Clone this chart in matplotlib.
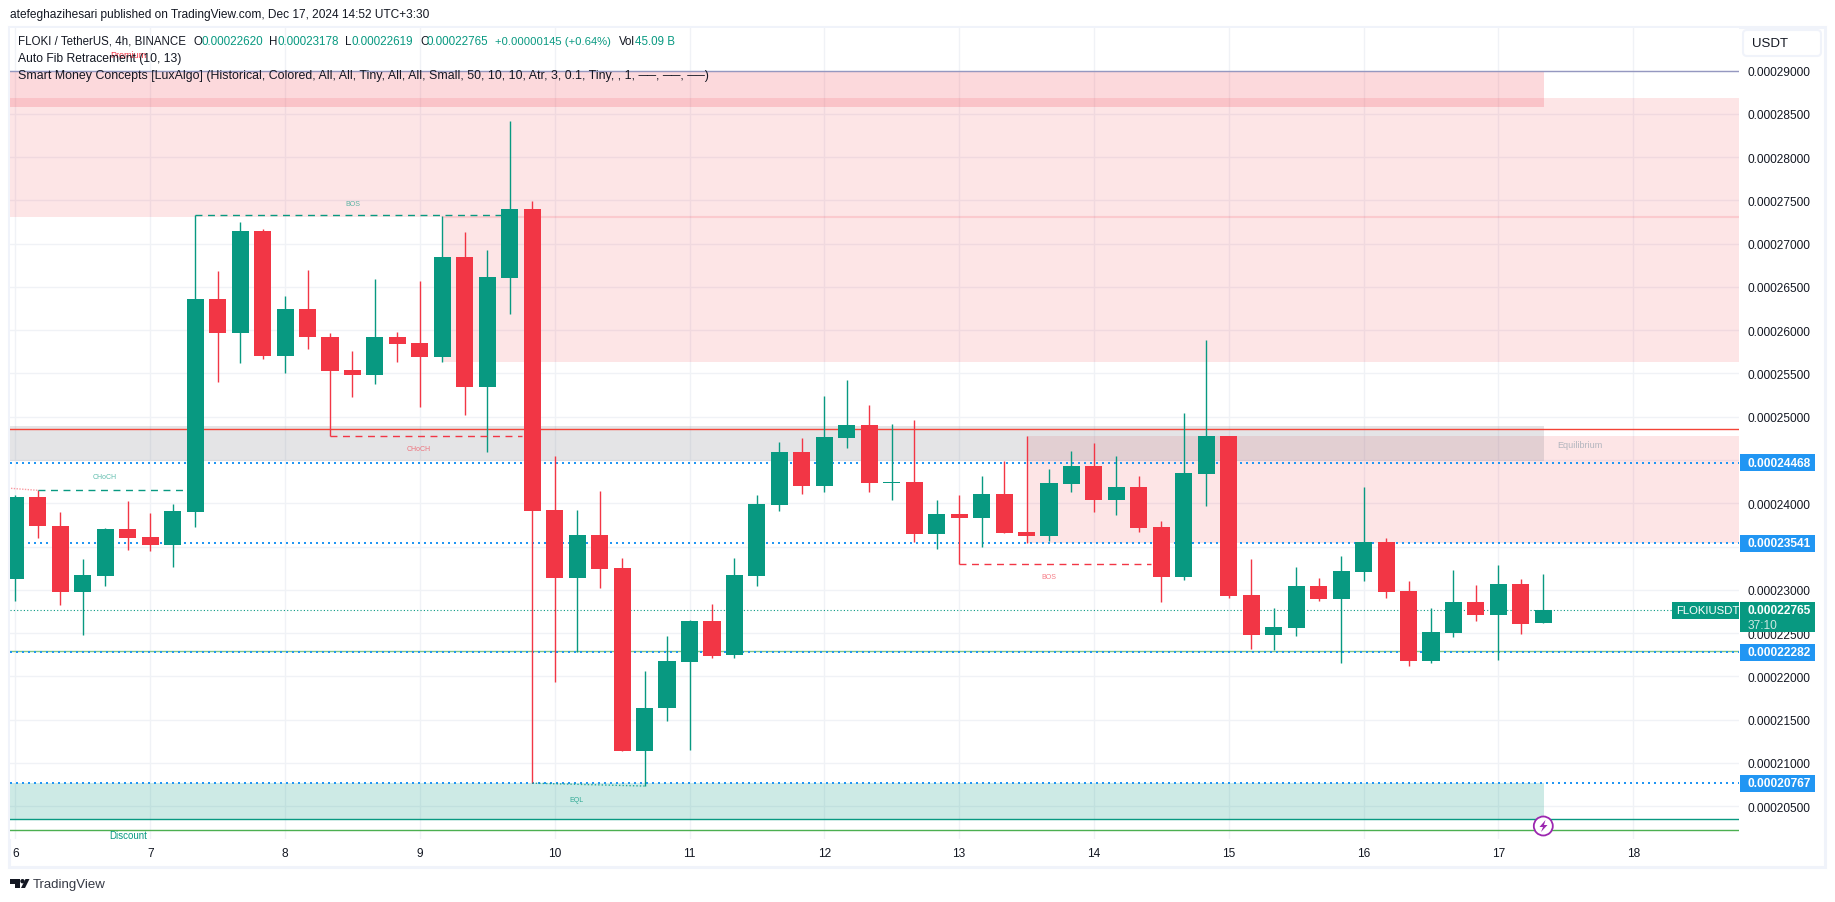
import numpy as np
import matplotlib
matplotlib.use("Agg")
import matplotlib.pyplot as plt
from matplotlib.patches import Rectangle, FancyBboxPatch, Circle, Polygon
from matplotlib.transforms import Affine2D, IdentityTransform, blended_transform_factory

plt.rcParams['font.family'] = ['Liberation Sans', 'DejaVu Sans']

# prices are in units of 0.000001
highs = [240.96,241.53,239.00,233.56,237.15,240.26,238.88,239.92,273.31,266.84,272.50,271.69,263.95,266.95,259.67,257.59,265.91,259.79,265.68,273.19,271.34,269.26,284.17,274.92,245.46,239.22,241.42,233.68,220.62,224.67,226.52,228.37,233.68,240.96,247.08,247.54,252.39,254.24,251.35,249.16,249.62,240.38,240.96,243.15,244.89,247.77,243.96,246.04,246.96,245.46,243.15,237.95,250.43,258.92,247.77,233.56,227.90,232.64,231.37,233.91,241.88,235.99,231.02,227.90,232.29,230.56,232.87,231.25,231.78]
lows = [228.71,235.99,228.25,224.78,230.44,234.60,234.49,232.64,237.26,254.01,256.21,256.67,255.05,257.82,247.77,252.28,253.78,256.32,251.12,256.32,250.20,245.93,261.87,207.67,219.35,222.82,230.21,211.38,207.34,214.85,211.50,222.13,222.13,230.44,239.11,241.07,241.30,246.39,241.30,240.38,235.53,234.72,232.99,234.95,236.57,235.41,235.64,241.30,239.00,238.65,236.68,228.60,231.14,239.69,229.06,223.17,223.05,224.67,228.71,221.55,231.02,229.06,221.20,221.55,224.55,226.40,221.90,224.90,226.19]
opens = [231.25,240.73,237.38,229.75,231.60,237.03,236.10,235.18,239.00,263.60,259.67,271.46,257.02,262.45,259.21,255.40,254.82,259.21,258.52,256.90,268.45,253.43,266.03,274.00,239.22,231.37,236.34,232.52,211.38,216.35,221.66,226.40,222.47,231.60,239.80,245.93,242.00,247.54,249.04,242.34,242.46,236.45,238.76,238.30,241.07,236.68,236.22,242.23,244.31,240.38,241.88,237.26,231.48,243.38,247.77,229.40,224.78,225.59,230.44,228.94,232.06,235.53,229.87,221.78,225.01,228.60,227.09,230.67,226.20]
closes = [240.73,237.38,229.75,231.71,237.03,235.99,235.18,239.11,263.60,259.67,271.46,257.02,262.45,259.21,255.28,254.82,259.21,258.40,256.90,268.45,253.43,266.14,274.00,239.11,231.37,236.34,232.41,211.38,216.35,221.78,226.40,222.36,231.71,239.92,245.93,242.00,247.66,249.04,242.34,242.46,236.45,238.76,238.30,241.07,236.57,236.22,242.34,244.31,240.38,241.88,237.15,231.48,243.50,247.77,229.29,224.78,225.71,230.44,228.94,232.18,235.53,229.75,221.78,225.13,228.60,227.09,230.67,226.05,227.65]

day_labels = ['6','7','8','9','10','11','12','13','14','15','16','17','18']
price_ticks = np.arange(205, 291, 5)

blue_levels = [244.68, 235.41, 222.82, 207.67]
blue_texts = ['0.00024468', '0.00023541', '0.00022282', '0.00020767']
last_price = 227.65

green = '#089981'
red = '#f23645'
blue = '#2196f3'
W, H = 1835, 903

fig = plt.figure(figsize=(W/100, H/100), dpi=100, facecolor='white')
L, R, T, B = 10, 1739, 29, 840
ax = fig.add_axes([L/W, 1-B/H, (R-L)/W, (B-T)/H])

bar_x0, bar_dx = 15.4, 22.47
def px(x):
    # chart pixel column to bar index
    return (x-bar_x0)/bar_dx

ax.set_xlim(px(L), px(R))
ax.set_ylim(201.22, 294.91)
for s in ax.spines.values():
    s.set_visible(False)
ax.set_axisbelow(True)
ax.grid(True, color='#f0f2f6', lw=1.0)
ax.set_xticks(np.arange(len(day_labels))*6)
ax.set_xticklabels(day_labels)
ax.set_yticks(price_ticks)
ax.set_yticklabels(['0.%08d' % (p*100) for p in price_ticks])
ax.yaxis.tick_right()
ax.tick_params(axis='both', length=0, labelsize=8.6, labelcolor='#131722')
ax.tick_params(axis='y', pad=6.4)
ax.tick_params(axis='x', pad=6)

def zone(x0, x1, p0, p1, color, alpha, z=1):
    ax.add_patch(Rectangle((px(x0), p0), px(x1)-px(x0), p1-p0, fc=color, alpha=alpha, ec='none', zorder=z))

# smart money zones
zone(L, 1543.7, 285.82, 290, red, 0.19)
zone(L, R, 273.13, 286.82, red, 0.13)
zone(442.5, R, 256.38, 273.13, red, 0.13)
zone(1026.5, R, 235.41, 247.77, red, 0.13)
zone(L, 1543.7, 244.89, 248.93, '#787b86', 0.20)
zone(L, 1543.7, 203.49, 207.67, green, 0.20)
ax.plot([px(442.5), px(R)], [273.13, 273.13], color=red, alpha=0.15, lw=1.5, zorder=1)
ax.plot([px(L), px(R)], [290, 290], color='#9598c0', lw=1, zorder=2)

# level lines
ax.plot([px(L), px(R)], [248.55, 248.55], color='#f44336', lw=1, zorder=2)
ax.plot([px(L), px(R)], [203.49, 203.49], color=green, lw=1, zorder=2)
ax.plot([px(L), px(R)], [202.22, 202.22], color='#4caf50', lw=1, zorder=2)
ax.plot([px(L), px(R)], [222.97, 222.97], color='#81c784', lw=1, zorder=2)
ax.plot([px(L), px(R)], [last_price, last_price], color=green, lw=0.8, ls=(0, (1, 2)), zorder=2)

# candles
x = np.arange(len(opens))
o, c = np.array(opens), np.array(closes)
colors = [green if cc >= oo else red for oo, cc in zip(o, c)]
ax.vlines(x, lows, highs, colors=colors, lw=1.0, zorder=3)
ax.bar(x, np.abs(c-o), bottom=np.minimum(o, c), width=0.76, color=colors, zorder=3)

# dotted levels, 2px dots every 6px
starts = [L, 28, L, L]
for lv, st in zip(blue_levels, starts):
    ax.plot([px(st), px(R)], [lv, lv], color=blue, lw=1.44, ls=(0, (1, 2)), zorder=2.5)

# structure labels
def struct(x0, x1, p, color, label, lx, lp):
    ax.plot([x0, x1], [p, p], color=color, lw=1, ls=(0, (5, 4)), zorder=3.5)
    ax.text(px(lx), lp, label, color=color, alpha=0.65, fontsize=5, ha='center', va='center', zorder=4)

struct(8, px(509), 273.3, green, 'BOS', 352.7, 274.65)
struct(14, px(522), 247.74, red, 'CHoCH', 419, 246.35)
struct(1, px(186), 241.5, green, 'CHoCH', 105, 243.05)
struct(42, px(1150.8), 232.95, red, 'BOS', 1048.8, 231.55)
ax.plot([px(11), 1], [241.73, 241.5], color=red, alpha=0.5, lw=1, ls=(0, (1, 1)), zorder=3.5)
ax.plot([23, 28], [207.67, 207.34], color=green, alpha=0.8, lw=1, ls=(0, (1, 1.5)), zorder=3.5)
ax.text(px(576.5), 205.8, 'EQL', color=green, alpha=0.8, fontsize=5, ha='center', va='center', zorder=4)
ax.text(px(1580), 246.75, 'Equilibrium', color='#b2b5be', fontsize=6.5, ha='center', va='center', zorder=4)
ax.text(px(128), 291.8, 'Premium', color=red, fontsize=6.5, ha='center', va='center', zorder=6, clip_on=False)
ax.text(px(128), 201.7, 'Discount', color=green, fontsize=7, ha='center', va='center', zorder=4)

# price labels on the scale
side = blended_transform_factory(IdentityTransform(), ax.transData)
def side_box(x0, x1, p0, p1, color):
    ax.add_patch(Rectangle((x0, p0), x1-x0, p1-p0, fc=color, ec='none', transform=side, clip_on=False, zorder=5))

for lv, txt in zip(blue_levels, blue_texts):
    side_box(1740, 1815, lv-0.98, lv+0.98, blue)
    ax.text(1748, lv, txt, color='white', fontsize=8.6, fontweight='bold', va='center', transform=side, clip_on=False, zorder=6)
side_box(1672, 1739, last_price-0.98, last_price+0.98, green)
side_box(1740, 1815, last_price-2.55, last_price+0.98, green)
ax.text(1676.5, last_price, 'FLOKIUSDT', color='white', fontsize=8.2, va='center', transform=side, clip_on=False, zorder=6)
ax.text(1748, last_price, '0.00022765', color='white', fontsize=8.6, fontweight='bold', va='center', transform=side, clip_on=False, zorder=6)
ax.text(1748, last_price-1.68, '37:10', color='#cfe9e3', fontsize=8.6, va='center', transform=side, clip_on=False, zorder=6)

# page furniture, in image pixels
page = Affine2D().scale(1, -1).translate(0, H)
def ptext(x0, y0, s, color='#131722', size=8.6, **kw):
    fig.text(x0, y0, s, color=color, fontsize=size, va='center', transform=page, **kw)

fig.add_artist(Rectangle((8.5, 27.5), 1816, 840, fc='none', ec='#f0f3fa', lw=2.2, transform=page, zorder=-1))
ptext(10, 15, 'atefeghazihesari published on TradingView.com, Dec 17, 2024 14:52 UTC+3:30')
ptext(18, 42, 'FLOKI / TetherUS, 4h, BINANCE', size=8.3)
for xl, lab, xv, val in [(193, 'O', 201, '0.00022620'), (269, 'H', 277, '0.00023178'),
                         (345, 'L', 351.4, '0.00022619'), (420, 'C', 426.6, '0.00022765')]:
    ptext(xl, 42, lab, size=8.3)
    ptext(xv, 42, val, color=green, size=8.4)
ptext(495, 42, '+0.00000145 (+0.64%)', color=green, size=8.1)
ptext(619, 42, 'Vol', size=8.3)
ptext(635, 42, '45.09 B', color=green, size=8.3)
ptext(18, 59, 'Auto Fib Retracement (10, 13)', size=8.7)
ptext(18, 76, 'Smart Money Concepts [LuxAlgo] (Historical, Colored, All, All, Tiny, All, All, Small, 50, 10, 10, Atr, 3, 0.1, Tiny, , 1, ──, ──, ──)', size=8.9)

fig.add_artist(FancyBboxPatch((1745, 33), 74, 22, boxstyle='round,pad=2,rounding_size=4', fc='white', ec='#f0f3fa', lw=1.5, transform=page))
ptext(1752, 44.5, 'USDT', size=9.5)

# bolt marker
fig.add_artist(Circle((1543.3, 827), 9.5, fc='white', ec='#9c27b0', lw=1.3, transform=page, zorder=7))
fig.add_artist(Polygon([(1545.5, 821), (1539.5, 828), (1543, 828), (1541, 833), (1547.5, 826), (1544, 826)], fc='#9c27b0', ec='none', transform=page, zorder=8))

# footer logo
fig.add_artist(Polygon([(10, 880), (20, 880), (20, 889), (15, 889), (15, 884.5), (10, 884.5)], fc='#131722', ec='none', transform=page))
fig.add_artist(Circle((22.5, 882.2), 2.2, fc='#131722', ec='none', transform=page))
fig.add_artist(Polygon([(21, 889), (25.5, 880), (29.5, 880), (25, 889)], fc='#131722', ec='none', transform=page))
ptext(33, 885.5, 'TradingView', color='#363a45', size=9.5)

fig.savefig('out.png', dpi=100)
